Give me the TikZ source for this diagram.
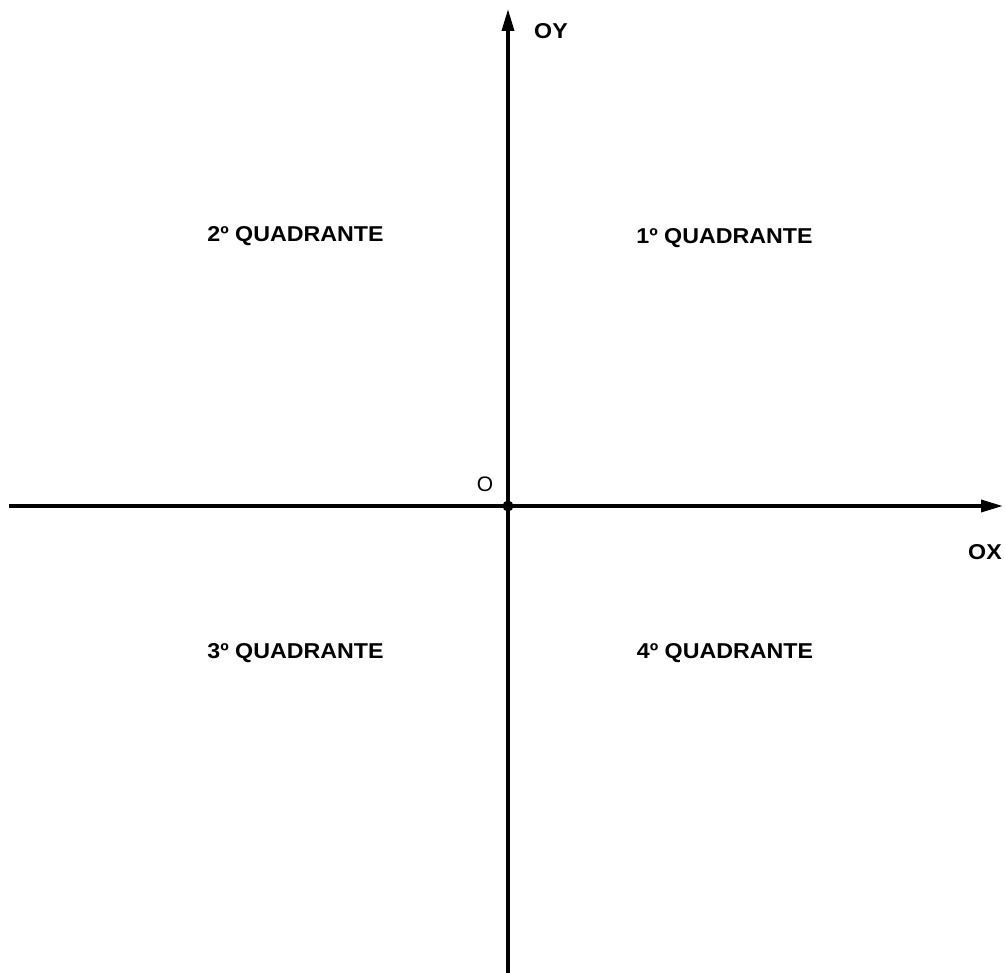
\documentclass[tikz,border=0pt]{standalone}
\usepackage{fontspec}
\setmainfont{Liberation Sans}
\newfontfamily\lblfont[FakeStretch=1.08]{Liberation Sans}
\usetikzlibrary{arrows.meta}
\begin{document}
\begin{tikzpicture}[x=1pt,y=-1pt,
  axis/.style={line width=3.5pt,-{Triangle[length=22pt,width=12pt]}},
  qlabel/.style={font=\lblfont\fontsize{21.5}{26}\selectfont\bfseries,inner sep=0pt,anchor=base},
  alabel/.style={font=\lblfont\fontsize{21.5}{26}\selectfont\bfseries,inner sep=0pt,anchor=base},
  olabel/.style={font=\fontsize{21}{25}\selectfont,inner sep=0pt,anchor=base}]
\useasboundingbox (0,0) rectangle (1005,973);
\coordinate (xs) at (9,506);
\coordinate (xe) at (1003,506);
\coordinate (ys) at (508,973);
\coordinate (ye) at (508,9);
\draw[axis] (xs) -- (xe);
\draw[axis] (ys) -- (ye);
\fill (508,506) circle (5.5pt) node[coordinate] (o) {};
\node[olabel] (olab) at (485,492) {O};
\node[alabel] (oy) at (551,39) {OY};
\node[alabel] (ox) at (985,560) {OX};
\node[qlabel] (q1) at (724.5,244) {1º QUADRANTE};
\node[qlabel] (q2) at (295.5,242) {2º QUADRANTE};
\node[qlabel] (q3) at (295.5,658) {3º QUADRANTE};
\node[qlabel] (q4) at (725,658) {4º QUADRANTE};
\end{tikzpicture}
\end{document}
